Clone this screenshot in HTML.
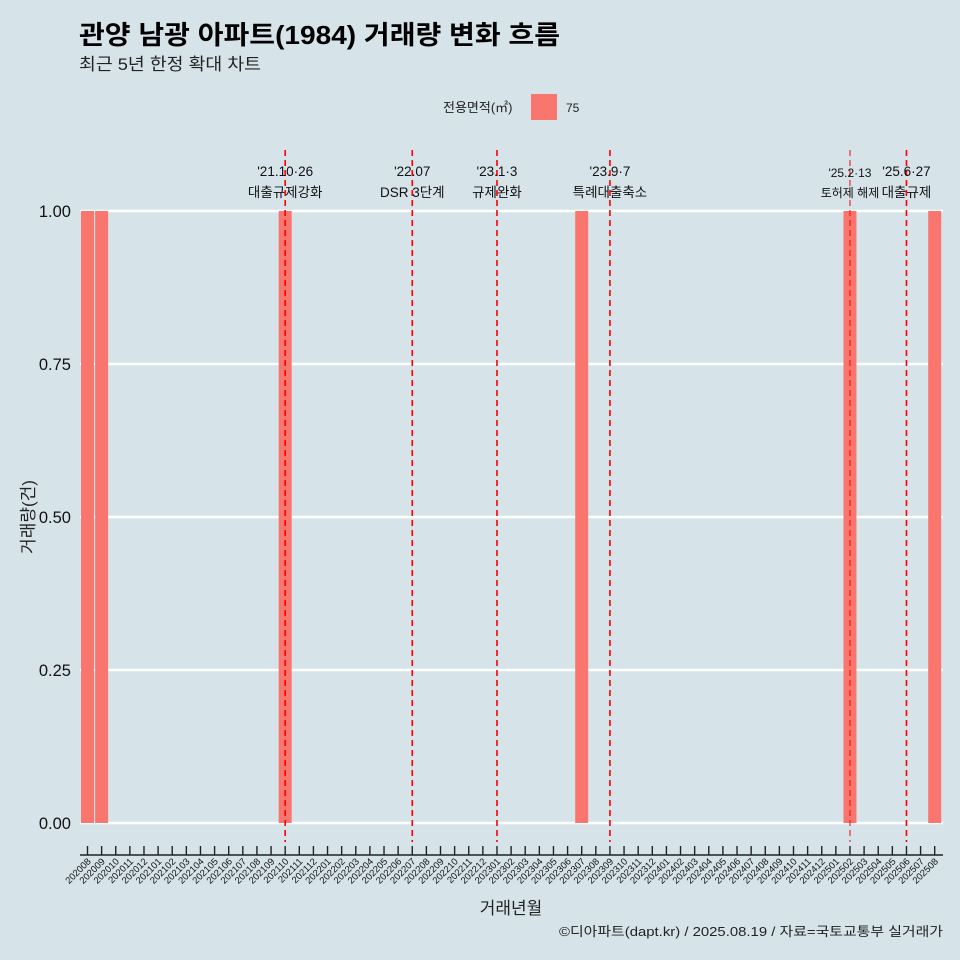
<!DOCTYPE html>
<html><head><meta charset="utf-8">
<style>
body{margin:0;background:#d6e4ea;}
svg{display:block;font-family:"Liberation Sans","Noto Sans CJK KR",sans-serif;}
</style></head>
<body>
<svg id="chart" width="960" height="960" viewBox="0 0 960 960" xmlns="http://www.w3.org/2000/svg">
<rect width="960" height="960" fill="#d6e4ea"/>
<text x="79" y="44" font-size="26" font-weight="bold" fill="#000" textLength="481" lengthAdjust="spacingAndGlyphs">관양 남광 아파트(1984) 거래량 변화 흐름</text>
<text x="79" y="70" font-size="17" fill="#222" textLength="182" lengthAdjust="spacingAndGlyphs">최근 5년 한정 확대 차트</text>
<g>
<text x="443" y="112" font-size="13" fill="#222">전용면적(㎡)</text>
<rect x="531" y="94" width="26" height="26" fill="#f8766d"/>
<text x="566" y="112" font-size="12" fill="#222">75</text>
</g>
<g id="grid"></g>
<g id="bars"></g>
<g id="events"></g>
<g id="xaxis"></g>
<g id="yaxis"></g>
<text x="511" y="914" font-size="17" text-anchor="middle" fill="#222">거래년월</text>
<text transform="translate(34,517) rotate(-90)" font-size="17" text-anchor="middle" fill="#222">거래량(건)</text>
<text x="559" y="936" font-size="13" fill="#222" textLength="384" lengthAdjust="spacingAndGlyphs">©디아파트(dapt.kr) / 2025.08.19 / 자료=국토교통부 실거래가</text>
</svg>
<script>
const months = [];
for (let y = 2020; y <= 2025; y++) for (let m = 1; m <= 12; m++) {
  const k = y * 100 + m;
  if (k >= 202008 && k <= 202508) months.push(String(k));
}
const barMonths = ["202008","202009","202110","202307","202502","202508"];
const barValues = [1,1,1,1,1,1];
const yTicks = [0,0.25,0.5,0.75,1];
const yTickLabels = ["0.00","0.25","0.50","0.75","1.00"];
const eventMonths = ["202110","202207","202301","202309","202502","202506"];
const eventDates = ["'21.10·26","'22.07","'23.1·3","'23.9·7","'25.2·13","'25.6·27"];
const eventLabels = ["대출규제강화","DSR 3단계","규제완화","특례대출축소","토허제 해제","대출규제"];

const NS = "http://www.w3.org/2000/svg";
const x0 = 87.5, step = 14.12;
const xScale = m => x0 + months.indexOf(m) * step;
const yScale = v => 823 - v * 612;
function mk(tag, attrs, parent) {
  const e = document.createElementNS(NS, tag);
  for (const k in attrs) e.setAttribute(k, attrs[k]);
  document.getElementById(parent).appendChild(e);
  return e;
}
yTicks.forEach((t, i) => {
  const l = mk("line", {x1: 80, x2: 943, y1: yScale(t), y2: yScale(t), stroke: "#fff", "stroke-width": 2.5}, "grid");
  
  
  const tx = mk("text", {x: 71, y: yScale(t) + 6, "font-size": 16.5, "text-anchor": "end", fill: "#111"}, "yaxis");
  tx.textContent = yTickLabels[i];
  
  
});
barMonths.forEach((m, i) => {
  const b = mk("rect", {x: xScale(m) - 6.5, y: yScale(barValues[i]), width: 13, height: yScale(0) - yScale(barValues[i]), fill: "#f8766d"}, "bars");
  
  
});
eventMonths.forEach((m, i) => {
  const x = xScale(m);
  const small = m === "202502";
  const l = mk("line", {x1: x, x2: x, y1: 150, y2: 842, stroke: "#ff0000", "stroke-width": small ? 1 : 1.6, "stroke-dasharray": "6,4"}, "events");
  
  
  const fs = small ? 12 : 13.5;
  const d = mk("text", {x: x, y: small ? 177 : 176, "font-size": fs, "text-anchor": "middle", fill: "#111"}, "events");
  d.textContent = eventDates[i];
  
  
  const t = mk("text", {x: x, y: 197, "font-size": fs, "text-anchor": "middle", fill: "#111"}, "events");
  t.textContent = eventLabels[i];
  
  
});
const ax = mk("line", {x1: 80, x2: 943, y1: 855, y2: 855, stroke: "#222", "stroke-width": 1.4}, "xaxis");


months.forEach(m => {
  const x = xScale(m);
  const t = mk("line", {x1: x, x2: x, y1: 846, y2: 855, stroke: "#222", "stroke-width": 1.4}, "xaxis");
  
  
  const tx = mk("text", {transform: `translate(${x + 4},${862}) rotate(-45)`, "font-size": 9.5, "text-anchor": "end", fill: "#111"}, "xaxis");
  tx.textContent = m;
  
  
});
</script>
</body></html>
